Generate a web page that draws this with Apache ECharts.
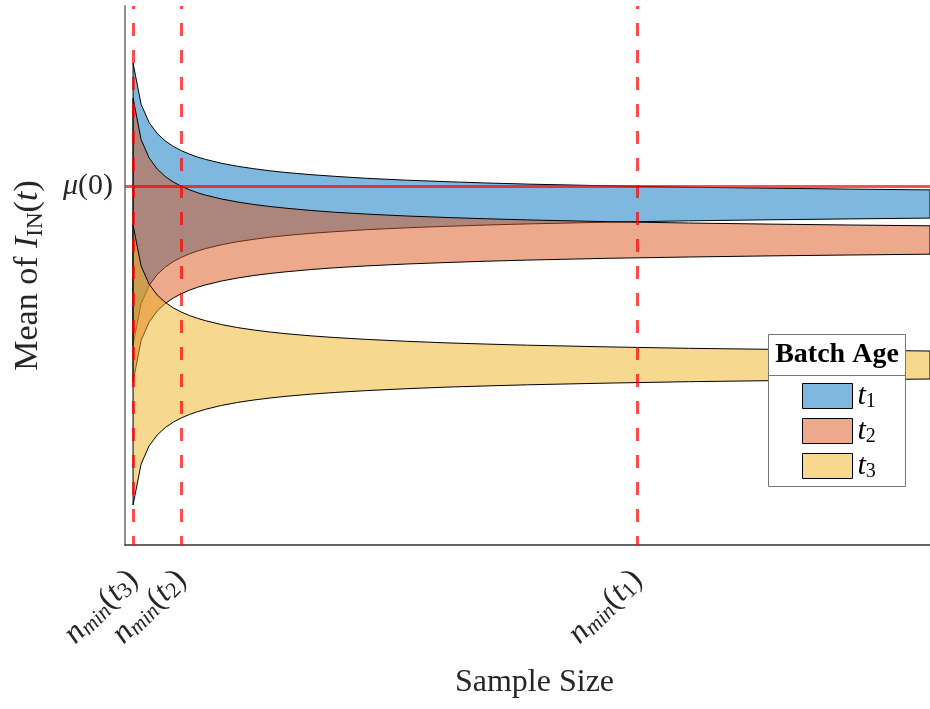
<!DOCTYPE html>
<html>
<head>
<meta charset="utf-8">
<script src="https://cdn.jsdelivr.net/npm/echarts@6/dist/echarts.min.js"></script>
<style>
html,body{margin:0;padding:0;background:#fff;}
#chart{width:930px;height:709px;}
</style>
</head>
<body>
<div id="chart"></div>
<script>
// Sample sizes (x) at which band edges were read
const sampleSizes = [1,2,3,4,5,6,7,8,9,10,12,14,16,18,20,23,26,30,35,40,45,50,60,70,80,90,100];
// Band edges (y, arbitrary units: 0 = axis bottom)
const t1Upper = [482,440.7,422.4,411.5,404.1,398.6,394.3,390.9,388.0,385.6,381.7,378.7,376.3,374.2,372.5,370.4,368.7,366.7,364.8,363.3,362.0,360.9,359.2,357.8,356.8,355.9,355.1];
const t1Lower = [200,241.3,259.6,270.5,277.9,283.4,287.7,291.1,294.0,296.4,300.3,303.3,305.7,307.8,309.5,311.6,313.3,315.3,317.2,318.7,320.0,321.1,322.8,324.2,325.2,326.1,326.9];
const t2Upper = [447,405.4,387.0,376.0,368.5,363.0,358.7,355.2,352.3,349.9,346.0,343.0,340.5,338.5,336.8,334.6,332.8,330.9,329.0,327.5,326.2,325.1,323.3,322.0,320.9,320.0,319.2];
const t2Lower = [163,204.6,223.0,234.0,241.5,247.0,251.3,254.8,257.7,260.1,264.0,267.0,269.5,271.5,273.2,275.4,277.2,279.1,281.0,282.5,283.8,284.9,286.7,288.0,289.1,290.0,290.8];
const t3Upper = [320,279.0,260.8,250.0,242.6,237.1,232.9,229.5,226.7,224.3,220.4,217.4,215.0,213.0,211.3,209.2,207.5,205.6,203.7,202.1,200.9,199.8,198.1,196.7,195.7,194.8,194.0];
const t3Lower = [40,81.0,99.2,110.0,117.4,122.9,127.1,130.5,133.3,135.7,139.6,142.6,145.0,147.0,148.7,150.8,152.5,154.4,156.3,157.9,159.1,160.2,161.9,163.3,164.3,165.2,166.0];
// Reference level mu(0) and n_min positions
const muZero = 359;
const nMinX = [1, 7, 63.64];
const nMinSub = ['3', '2', '1'];
const seriesNames = ['t1', 't2', 't3'];
const yMin = 0, yMax = 539, xMin = 0, xMax = 100;

const bandColors = ['rgba(0,114,189,0.5)', 'rgba(217,83,25,0.5)', 'rgba(237,177,32,0.5)'];
const SERIF = '"Liberation Serif", "Times New Roman", serif';
const TXT = '#262626';

const bands = [[t1Lower, t1Upper], [t2Lower, t2Upper], [t3Lower, t3Upper]];
const series = [];
bands.forEach((b, k) => {
  const lower = b[0], upper = b[1];
  series.push({
    name: seriesNames[k], type: 'custom', silent: true, z: 2 + k,
    color: bandColors[k],
    encode: { x: 0, y: [1, 2] },
    data: sampleSizes.map((x, i) => [x, lower[i], upper[i]]),
    renderItem: function (params, api) {
      if (params.dataIndex !== 0) return null;
      const pts = [];
      for (let i = 0; i < sampleSizes.length; i++) pts.push(api.coord([sampleSizes[i], upper[i]]));
      for (let i = sampleSizes.length - 1; i >= 0; i--) pts.push(api.coord([sampleSizes[i], lower[i]]));
      return {
        type: 'polygon',
        shape: { points: pts },
        style: { fill: bandColors[k], stroke: '#000', lineWidth: 1, lineJoin: 'round' }
      };
    }
  });
});
// reference lines
series.push({
  name: 'refs', type: 'line', data: [], silent: true, z: 10,
  markLine: {
    symbol: 'none', silent: true, animation: false,
    label: { show: false },
    data: [
      { yAxis: muZero, lineStyle: { color: 'rgba(255,0,0,0.7)', width: 3, type: 'solid' } },
      ...nMinX.map(v => ({ xAxis: v, lineStyle: { color: 'rgba(255,0,0,0.7)', width: 3, type: [13, 14], dashOffset: 4 } }))
    ]
  }
});

const chart = echarts.init(document.getElementById('chart'), null, { renderer: 'canvas' });
chart.setOption({
  animation: false,
  backgroundColor: '#fff',
  grid: { left: 125, right: 0, top: 6, bottom: 164, containLabel: false },
  xAxis: {
    type: 'value', min: xMin, max: xMax,
    name: 'Sample Size', nameLocation: 'middle', nameGap: 122,
    nameTextStyle: { fontFamily: SERIF, fontSize: 32, color: TXT, padding: [0, 0, 0, 14] },
    axisLine: { show: true, onZero: false, lineStyle: { color: '#333', width: 1.5 } },
    axisTick: { show: false },
    splitLine: { show: false },
    axisLabel: {
      customValues: nMinX, rotate: 45, margin: 30, color: TXT,
      formatter: function (v) {
        let best = 0;
        nMinX.forEach((x, i) => { if (Math.abs(x - v) < Math.abs(nMinX[best] - v)) best = i; });
        return '{n|n}{m|min}{p|(}{n|t}{s|' + nMinSub[best] + '}{p|)}';
      },
      rich: {
        n: { fontFamily: SERIF, fontStyle: 'italic', fontSize: 32, color: TXT },
        m: { fontFamily: SERIF, fontStyle: 'italic', fontSize: 22, color: TXT, padding: [12, 0, 0, 0] },
        p: { fontFamily: SERIF, fontSize: 32, color: TXT },
        s: { fontFamily: SERIF, fontSize: 22, color: TXT, padding: [12, 0, 0, 0] }
      }
    }
  },
  yAxis: {
    type: 'value', min: yMin, max: yMax,
    name: 'Mean of {i|I}{s|IN}({i|t})', nameLocation: 'middle', nameGap: 78, nameRotate: 90,
    nameTextStyle: {
      fontFamily: SERIF, fontSize: 34, color: TXT, padding: [0, 0, 0, 0],
      rich: {
        i: { fontFamily: SERIF, fontStyle: 'italic', fontSize: 34, color: TXT },
        s: { fontFamily: SERIF, fontSize: 23, color: TXT, padding: [14, 0, 0, 0] }
      }
    },
    axisLine: { show: true, onZero: false, lineStyle: { color: '#8f8f8f', width: 2 } },
    axisTick: { show: false },
    splitLine: { show: false },
    axisLabel: {
      customValues: [muZero], margin: 12, color: TXT,
      formatter: function () { return '{i|μ}{p|(0)}'; },
      rich: {
        i: { fontFamily: SERIF, fontStyle: 'italic', fontSize: 30, color: TXT },
        p: { fontFamily: SERIF, fontSize: 30, color: TXT }
      }
    }
  },
  legend: {
    show: true, orient: 'vertical', left: 797, top: 376, z: 200,
    itemWidth: 50, itemHeight: 25, itemGap: 4, icon: 'rect',
    selectedMode: false,
    data: seriesNames.map((n, k) => ({
      name: n, icon: 'rect',
      itemStyle: { color: bandColors[k], borderColor: '#000', borderWidth: 1 }
    })),
    formatter: function (name) { return '{i|t}{s|' + name.slice(1) + '}'; },
    textStyle: {
      lineHeight: 25, color: '#000',
      rich: {
        i: { fontFamily: SERIF, fontStyle: 'italic', fontSize: 30, color: '#000' },
        s: { fontFamily: SERIF, fontSize: 20, color: '#000', padding: [12, 0, 0, 0] }
      }
    }
  },
  graphic: [
    { type: 'rect', z: 100, shape: { x: 768.5, y: 334.5, width: 137, height: 152 },
      style: { fill: '#fff', stroke: '#777', lineWidth: 1 } },
    { type: 'line', z: 101, shape: { x1: 768.5, y1: 375.5, x2: 905.5, y2: 375.5 },
      style: { stroke: '#777', lineWidth: 1 } },
    { type: 'text', z: 101, x: 837, y: 355,
      style: { text: 'Batch Age', font: 'bold 28px "Liberation Serif"', fill: '#000', textAlign: 'center', textVerticalAlign: 'middle' } }
  ],
  series: series
});
</script>
</body>
</html>
